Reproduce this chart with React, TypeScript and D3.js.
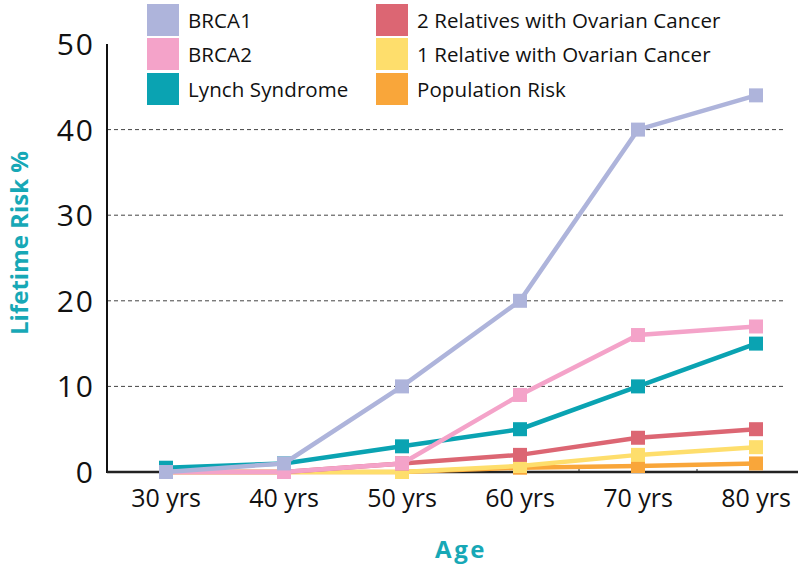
import React from "react";
import * as d3 from "d3";

const ages = ["30 yrs", "40 yrs", "50 yrs", "60 yrs", "70 yrs", "80 yrs"];
const yTicks = [0, 10, 20, 30, 40, 50];
const gridTicks = [10, 20, 30, 40];

const brca1 = [0, 1, 10, 20, 40, 44];
const brca2 = [0, 0, 1, 9, 16, 17];
const lynch = [0.5, 1, 3, 5, 10, 15];
const twoRel = [0, 0, 1, 2, 4, 5];
const oneRel = [0, 0, 0, 0.7, 2, 2.9];
const population = [0, 0, 0, 0.5, 0.7, 1];

const seriesNames = [
  "BRCA1",
  "BRCA2",
  "Lynch Syndrome",
  "2 Relatives with Ovarian Cancer",
  "1 Relative with Ovarian Cancer",
  "Population Risk",
];
const seriesValues = [brca1, brca2, lynch, twoRel, oneRel, population];
const seriesColors = ["#aeb4db", "#f4a3c9", "#0aa3b2", "#dc6673", "#fede6c", "#f9a63a"];

const FONT = "'Open Sans', Lato, sans-serif";
const TEAL = "#17a8b6";

export default function App() {
  const left = 107;
  const step = 118;
  const x = d3.scaleBand<string>().domain(ages).range([left, left + step * ages.length]).padding(0);
  const y = d3.scaleLinear().domain([0, 50]).range([472, 44]);
  const cx = (a: string) => (x(a) as number) + x.bandwidth() / 2;
  const line = d3
    .line<number>()
    .x((_, i) => cx(ages[i]))
    .y((d) => y(d));

  const order = [5, 4, 3, 2, 1, 0];
  const legendRows = [4, 38, 73];

  return (
    <svg width={798} height={567} style={{ position: "absolute", left: 0, top: 0, background: "#fff" }}>
      {gridTicks.map((t) => (
        <line key={t} x1={left} x2={783} y1={y(t)} y2={y(t)} stroke="#444" strokeWidth={1} strokeDasharray="4,3" />
      ))}
      <line x1={left} x2={left} y1={y(50)} y2={y(0) + 1} stroke="#111" strokeWidth={2} />
      <line x1={left} x2={798} y1={y(0)} y2={y(0)} stroke="#222" strokeWidth={2.5} />
      {ages.slice(1).map((a) => (
        <line key={a} x1={x(a) as number} x2={x(a) as number} y1={y(0) - 3} y2={y(0)} stroke="#222" strokeWidth={1} />
      ))}
      {yTicks.map((t) => (
        <text key={t} x={95} y={y(t) + 11} textAnchor="end" fontFamily={FONT} fontSize={30} fill="#111" letterSpacing={2}>
          {t}
        </text>
      ))}
      {ages.map((a) => (
        <text key={a} x={cx(a)} y={507} textAnchor="middle" fontFamily={FONT} fontSize={25} fill="#111">
          {a}
        </text>
      ))}
      <text x={461} y={558} textAnchor="middle" fontFamily={FONT} fontSize={24} fontWeight={700} fill={TEAL} letterSpacing={2.5}>
        Age
      </text>
      <text
        transform={`translate(28,243) rotate(-90)`}
        textAnchor="middle"
        fontFamily={FONT}
        fontSize={24}
        fontWeight={700}
        fill={TEAL}
      >
        Lifetime Risk %
      </text>
      {order.map((si) => (
        <g key={si}>
          <path d={line(seriesValues[si]) as string} fill="none" stroke={seriesColors[si]} strokeWidth={4.5} />
          {seriesValues[si].map((v, i) => (
            <rect key={i} x={cx(ages[i]) - 7} y={y(v) - 7} width={14} height={14} fill={seriesColors[si]} />
          ))}
        </g>
      ))}
      {seriesNames.map((n, i) => {
        const col = Math.floor(i / 3);
        const row = i % 3;
        const sx = col === 0 ? 147 : 376;
        const sy = legendRows[row];
        return (
          <g key={n}>
            <rect x={sx} y={sy} width={32} height={32} fill={seriesColors[i]} />
            <text x={sx + 41} y={sy + 24} fontFamily={FONT} fontSize={20.5} fill="#111" letterSpacing={0.1}>
              {n}
            </text>
          </g>
        );
      })}
    </svg>
  );
}
